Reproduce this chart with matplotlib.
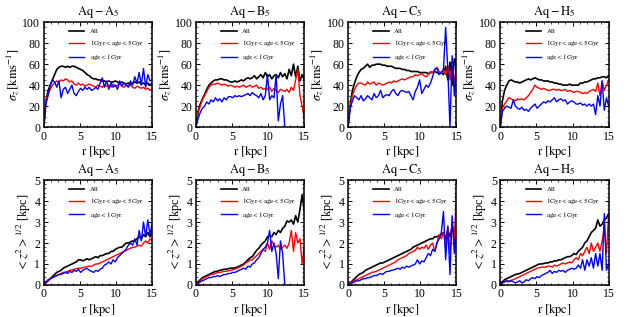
import numpy as np
import matplotlib
matplotlib.use("Agg")
import matplotlib.pyplot as plt

plt.rcParams['font.family'] = ['Liberation Serif', 'DejaVu Serif']
plt.rcParams['mathtext.fontset'] = 'stix'

# radius bins (kpc)
r = np.linspace(0, 15, 51)
nan = np.nan

titles = [r'$\mathrm{Aq-A_5}$', r'$\mathrm{Aq-B_5}$', r'$\mathrm{Aq-C_5}$', r'$\mathrm{Aq-H_5}$']
labels = ['All', r'$\mathrm{1Gyr < age < 5Gyr}$', r'$\mathrm{age < 1Gyr}$']

# sigma_z [km/s]
sig_all = [
    [0, 25, 35, 40, 45, 50, 55, 57, 58, 58, 57, 58, 57, 58, 58, 57, 56, 55, 54, 52, 50, 49, 47, 46, 46, 45, 45, 44, 44, 43, 44, 43, 43, 44, 43, 42, 43, 42, 41, 42, 41, 42, 43, 42, 43, 41, 42, 40, 42, 40, 42],
    [0, 15, 22, 27, 31, 36, 40, 42, 44, 45, 45, 46, 46, 45, 45, 44, 43, 43, 44, 43, 44, 45, 44, 46, 47, 46, 47, 49, 46, 48, 50, 47, 52, 48, 50, 46, 49, 50, 47, 52, 48, 51, 46, 55, 49, 60, 48, 58, 44, 50, 45],
    [0, 22, 35, 42, 48, 52, 55, 56, 58, 60, 57, 59, 59, 60, 60, 60, 59, 59, 58, 58, 58, 57, 56, 56, 56, 55, 55, 54, 54, 53, 53, 53, 53, 52, 52, 52, 52, 51, 52, 52, 53, 52, 51, 52, 50, 58, 45, 62, 40, 65, 60],
    [0, 25, 35, 40, 44, 45, 44, 43, 43, 42, 43, 44, 45, 46, 45, 46, 47, 46, 45, 45, 44, 44, 44, 43, 43, 42, 42, 41, 41, 40, 40, 40, 41, 40, 40, 40, 40, 42, 42, 43, 43, 44, 45, 46, 46, 47, 47, 48, 48, 47, 49],
]
sig_mid = [
    [0, 25, 32, 36, 40, 42, 44, 43, 45, 44, 46, 45, 43, 44, 41, 40, 42, 40, 41, 39, 40, 41, 40, 39, 38, 40, 39, 38, 40, 39, 40, 38, 41, 39, 40, 41, 39, 38, 40, 39, 40, 38, 37, 39, 38, 37, 38, 36, 37, 35, 36],
    [0, 14, 20, 26, 30, 34, 38, 40, 41, 41, 42, 41, 40, 41, 40, 39, 40, 39, 38, 39, 38, 39, 40, 38, 39, 40, 38, 39, 40, 37, 38, 36, 37, 36, 38, 34, 37, 35, 33, 36, 35, 34, 36, 33, 38, 35, 45, 55, 30, 20, 8],
    [0, 20, 30, 36, 40, 42, 42, 41, 40, 43, 41, 42, 43, 40, 42, 41, 40, 41, 42, 43, 42, 44, 43, 44, 45, 46, 45, 46, 47, 48, 48, 50, 49, 50, 51, 49, 48, 50, 53, 52, 55, 57, 53, 52, 55, 50, 58, 45, 62, 40, 62],
    [0, 18, 22, 25, 28, 27, 26, 25, 27, 26, 27, 26, 28, 30, 33, 36, 40, 38, 37, 36, 37, 36, 35, 35, 36, 36, 35, 36, 35, 35, 36, 34, 35, 34, 33, 34, 34, 33, 32, 33, 32, 34, 35, 36, 34, 42, 30, 44, 35, 40, 45],
]
sig_young = [
    [0, 22, 30, 40, 45, 43, 38, 44, 28, 36, 38, 32, 36, 40, 32, 30, 34, 37, 35, 38, 36, 38, 35, 36, 38, 36, 42, 47, 38, 44, 36, 42, 38, 40, 36, 44, 39, 42, 40, 38, 44, 40, 48, 42, 52, 40, 56, 38, 50, 44, 45],
    [0, 8, 14, 18, 20, 24, 22, 26, 24, 28, 25, 27, 24, 28, 26, 29, 29, 28, 30, 29, 30, 29, 30, 31, 32, 30, 33, 31, 30, 28, 32, 26, 30, 50, 26, 30, 28, 50, 6, 22, 30, 0, nan, nan, nan, nan, nan, nan, nan, nan, nan],
    [0, 18, 25, 30, 28, 26, 30, 25, 27, 30, 28, 26, 32, 28, 30, 35, 28, 30, 31, 30, 34, 36, 32, 30, 34, 35, 34, 33, 34, 30, 26, 34, 38, 45, 32, 36, 40, 38, 42, 48, 55, 56, 50, 52, 55, 95, 55, 0, 68, 30, 65],
    [0, 15, 18, 20, 19, 18, 26, 20, 18, 17, 19, 16, 17, 15, 18, 20, 22, 18, 20, 22, 24, 23, 25, 24, 26, 28, 24, 26, 27, 25, 26, 22, 24, 25, 24, 22, 22, 23, 21, 22, 20, 22, 20, 22, 12, 30, 20, 44, 16, 28, 20],
]

# <z^2>^1/2 [kpc]
z_all = [
    [0, 0.1, 0.2, 0.3, 0.4, 0.5, 0.6, 0.65, 0.7, 0.8, 0.85, 0.9, 0.95, 1.0, 1.05, 1.1, 1.2, 1.2, 1.15, 1.2, 1.25, 1.2, 1.25, 1.3, 1.35, 1.3, 1.4, 1.4, 1.45, 1.5, 1.5, 1.6, 1.6, 1.7, 1.75, 1.8, 1.8, 1.9, 2.0, 2.0, 2.05, 2.1, 2.1, 2.2, 2.3, 2.2, 2.4, 2.3, 2.5, 2.3, 2.5],
    [0, 0.15, 0.25, 0.35, 0.4, 0.45, 0.5, 0.55, 0.6, 0.65, 0.65, 0.7, 0.72, 0.75, 0.75, 0.78, 0.8, 0.8, 0.82, 0.85, 0.9, 0.95, 1.0, 1.1, 1.2, 1.3, 1.35, 1.5, 1.65, 1.75, 1.9, 2.0, 2.1, 2.3, 2.35, 2.3, 2.5, 2.4, 2.6, 2.5, 2.7, 2.8, 3.05, 3.0, 3.1, 2.9, 3.3, 3.0, 3.6, 4.3, 3.5],
    [0, 0.1, 0.2, 0.3, 0.4, 0.5, 0.55, 0.6, 0.7, 0.75, 0.8, 0.85, 0.9, 0.95, 1.0, 1.05, 1.05, 1.1, 1.15, 1.2, 1.25, 1.3, 1.35, 1.4, 1.45, 1.5, 1.55, 1.6, 1.65, 1.7, 1.8, 1.85, 1.9, 1.95, 2.0, 2.05, 2.1, 2.15, 2.2, 2.2, 2.3, 2.3, 2.35, 2.4, 2.5, 2.2, 2.6, 2.3, 2.8, 2.5, 2.9],
    [0, 0.15, 0.25, 0.3, 0.35, 0.4, 0.45, 0.5, 0.52, 0.55, 0.6, 0.65, 0.7, 0.75, 0.8, 0.85, 0.9, 0.95, 1.0, 1.0, 1.02, 1.05, 1.05, 1.1, 1.1, 1.15, 1.15, 1.2, 1.2, 1.25, 1.3, 1.35, 1.35, 1.4, 1.5, 1.45, 1.6, 1.7, 1.8, 2.0, 2.1, 2.3, 2.5, 2.6, 2.7, 3.1, 2.8, 2.9, 3.1, 3.2, 3.4],
]
z_mid = [
    [0, 0.1, 0.2, 0.3, 0.35, 0.4, 0.45, 0.5, 0.55, 0.6, 0.62, 0.65, 0.7, 0.72, 0.75, 0.78, 0.8, 0.8, 0.82, 0.85, 0.88, 0.9, 0.88, 0.95, 1.0, 1.0, 1.05, 1.1, 1.15, 1.2, 1.25, 1.3, 1.35, 1.4, 1.45, 1.5, 1.55, 1.6, 1.65, 1.7, 1.75, 1.8, 1.8, 1.85, 1.9, 1.85, 2.0, 2.1, 2.0, 2.2, 2.1],
    [0, 0.1, 0.2, 0.3, 0.35, 0.4, 0.45, 0.5, 0.52, 0.55, 0.6, 0.6, 0.62, 0.65, 0.65, 0.68, 0.7, 0.72, 0.75, 0.8, 0.85, 0.9, 0.95, 1.05, 1.1, 1.2, 1.2, 1.3, 1.4, 1.5, 1.6, 1.7, 1.6, 2.0, 1.7, 2.1, 1.9, 1.8, 1.9, 1.7, 1.8, 1.9, 1.75, 2.0, 2.6, 1.6, 2.5, 2.0, 2.2, 1.0, 1.8],
    [0, 0.08, 0.15, 0.2, 0.25, 0.3, 0.35, 0.4, 0.45, 0.5, 0.55, 0.6, 0.62, 0.65, 0.7, 0.75, 0.8, 0.85, 0.9, 0.95, 1.0, 1.05, 1.1, 1.2, 1.25, 1.3, 1.35, 1.4, 1.5, 1.55, 1.6, 1.65, 1.8, 1.7, 1.8, 1.75, 1.9, 1.7, 1.9, 2.0, 1.6, 2.0, 2.4, 2.2, 2.5, 1.8, 2.8, 1.5, 3.0, 2.0, 4.6],
    [0, 0.1, 0.15, 0.2, 0.2, 0.22, 0.25, 0.3, 0.35, 0.4, 0.45, 0.5, 0.55, 0.6, 0.65, 0.7, 0.75, 0.8, 0.82, 0.85, 0.85, 0.85, 0.9, 0.9, 0.85, 0.95, 0.9, 0.95, 1.0, 1.05, 1.0, 1.05, 1.1, 1.05, 1.2, 1.3, 1.2, 1.5, 1.4, 1.6, 1.8, 1.5, 2.0, 1.6, 1.8, 2.0, 1.6, 2.1, 2.7, 1.5, 3.4],
]
z_young = [
    [0, 0.15, 0.25, 0.3, 0.35, 0.4, 0.45, 0.5, 0.5, 0.55, 0.6, 0.55, 0.65, 0.6, 0.7, 0.65, 0.75, 0.6, 0.7, 0.75, 0.8, 0.7, 0.65, 0.6, 0.7, 0.65, 0.75, 0.8, 0.95, 1.0, 1.1, 1.0, 1.2, 1.1, 1.3, 1.4, 1.5, 1.6, 1.7, 1.9, 2.0, 1.9, 2.2, 1.9, 2.6, 2.1, 3.0, 2.3, 3.1, 2.4, 2.9],
    [0, 0.05, 0.15, 0.2, 0.25, 0.3, 0.35, 0.35, 0.4, 0.4, 0.45, 0.4, 0.45, 0.5, 0.5, 0.55, 0.55, 0.6, 0.6, 0.65, 0.7, 0.75, 0.8, 0.75, 0.9, 0.85, 1.0, 1.05, 1.2, 1.3, 1.5, 1.7, 1.8, 2.0, 2.6, 1.6, 2.0, 1.5, 0.3, 2.1, 1.5, 0.0, nan, nan, nan, nan, nan, nan, nan, nan, nan],
    [0, 0.05, 0.1, 0.15, 0.2, 0.2, 0.25, 0.3, 0.3, 0.35, 0.35, 0.4, 0.45, 0.45, 0.5, 0.55, 0.5, 0.6, 0.65, 0.65, 0.7, 0.72, 0.75, 0.8, 0.75, 0.85, 0.8, 0.9, 0.85, 0.9, 0.95, 1.0, 1.2, 1.0, 1.15, 1.1, 1.3, 1.5, 1.4, 1.7, 1.6, 2.0, 2.2, 2.5, 3.5, 1.2, 2.8, 0.5, 3.3, 1.5, 3.0],
    [0, 0.1, 0.15, 0.2, 0.15, 0.2, 0.15, 0.1, 0.15, 0.2, 0.1, 0.15, 0.25, 0.2, 0.3, 0.35, 0.3, 0.4, 0.35, 0.45, 0.5, 0.55, 0.6, 0.7, 0.55, 0.65, 0.6, 0.7, 0.65, 0.7, 0.6, 0.7, 0.75, 0.8, 0.75, 0.8, 0.95, 0.8, 1.2, 0.7, 1.2, 0.9, 1.3, 0.8, 1.5, 0.9, 1.5, 0.7, 3.4, 0.7, 1.0],
]

fig = plt.figure(figsize=(6.34, 3.17), dpi=100)
lefts = [0.069, 0.309, 0.549, 0.789]
w = 0.171

rows = [
    (0.599, sig_all, sig_mid, sig_young, 100, [0, 20, 40, 60, 80, 100], r'$\sigma_z\,[\mathrm{km s^{-1}}]$'),
    (0.101, z_all, z_mid, z_young, 5, [0, 1, 2, 3, 4, 5], r'$<z^2>^{1/2}$ [kpc]'),
]

for bottom, ya, ym, yy, ymax, yt, ylab in rows:
    for i in range(4):
        ax = fig.add_axes([lefts[i], bottom, w, 0.331])
        ax.plot(r, ya[i], color='black', lw=1.2, label=labels[0])
        ax.plot(r, ym[i], color='red', lw=1.0, label=labels[1])
        ax.plot(r, yy[i], color='blue', lw=1.0, label=labels[2])
        ax.set_xlim(0, 15)
        ax.set_ylim(0, ymax)
        ax.set_xticks([0, 5, 10, 15])
        ax.set_yticks(yt)
        ax.tick_params(direction='in', top=True, right=True, labelsize=8.5,
                       length=3, width=0.7, pad=2.5)
        ax.minorticks_on()
        ax.tick_params(which='minor', direction='in', top=True, right=True,
                       length=1.5, width=0.5)
        for s in ax.spines.values():
            s.set_linewidth(1.1)
        ax.set_title(titles[i], fontsize=9, pad=5)
        ax.set_xlabel(r'$\mathrm{r\ [kpc]}$', fontsize=9, labelpad=1)
        ax.set_ylabel(ylab, fontsize=9, labelpad=1)
        ax.legend(loc='upper center', bbox_to_anchor=(0.58, 1.0), frameon=False,
                  fontsize=5, handlelength=2.2, handletextpad=0.8,
                  labelspacing=0.55)

fig.savefig('out.png', dpi=100)
